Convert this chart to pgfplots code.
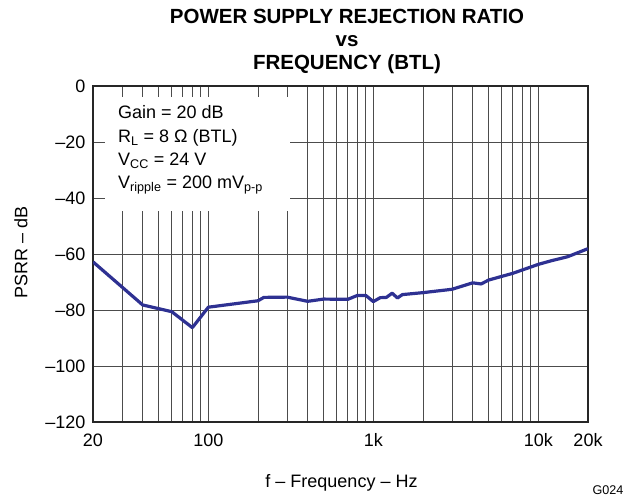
\documentclass[border=0pt]{standalone}
\usepackage{fontspec}
\setmainfont{Liberation Sans}
\usepackage{pgfplots}
\pgfplotsset{compat=1.18}
\definecolor{curve}{RGB}{46,49,146}
\begin{document}
\begin{tikzpicture}[font=\fontsize{18bp}{21bp}\selectfont]
\path[use as bounding box] (-93bp,-75bp) rectangle (536bp,422bp);
\begin{axis}[
 scale only axis, width=495bp, height=336bp,
 at={(0,0)}, anchor=south west,
 xmode=log, xmin=20, xmax=20000, ymin=-120, ymax=0,
 xtick={20,100,1000,10000,20000}, xticklabels={20,100,1k,10k,20k},
 minor xtick={30,40,50,60,70,80,90,200,300,400,500,600,700,800,900,2000,3000,4000,5000,6000,7000,8000,9000},
 ytick={-120,-100,-80,-60,-40,-20,0}, yticklabels={–120,–100,–80,–60,–40,–20,0},
 xmajorgrids, xminorgrids, ymajorgrids,
 grid style={black!70, line width=0.6bp},
 minor grid style={black!70, line width=0.6bp},
 major tick length=0, minor tick length=0,
 axis line style={line width=1.2bp, black!85},
 xticklabel style={yshift=-8bp},
 yticklabel style={xshift=-4bp},
]
\addplot[curve, line width=3.2bp, line join=round] coordinates {
(20,-62.8) (40,-78.2) (60,-80.6) (80,-86.3) (100,-79.0) (200,-76.7) (217,-75.5) (300,-75.4) (400,-76.9) (500,-76.1) (700,-76.2) (800,-74.8) (900,-74.8) (1000,-77.0) (1100,-75.6) (1200,-75.5) (1300,-74.0) (1400,-75.7) (1500,-74.5) (2000,-73.8) (3000,-72.6) (4000,-70.3) (4500,-70.7) (5000,-69.3) (7000,-66.9) (10000,-63.7) (12000,-62.4) (15000,-61.0) (20000,-58.1)
};
\end{axis}
% text box
\fill[white] (12bp,211bp) rectangle (197bp,325bp);
\node[anchor=base west, inner sep=0] at (25bp,303bp) {Gain = 20 dB};
\node[anchor=base west, inner sep=0] at (25bp,279.5bp) {R\textsubscript{L} = 8 Ω (BTL)};
\node[anchor=base west, inner sep=0] at (25bp,256.5bp) {V\textsubscript{CC} = 24 V};
\node[anchor=base west, inner sep=0] at (25bp,233.5bp) {V\textsubscript{ripple} = 200 mV\textsubscript{p-p}};
% title
\begin{scope}[font=\fontsize{20.5bp}{24bp}\selectfont\bfseries]
\node[anchor=base, inner sep=0] at (254bp,398bp) {POWER SUPPLY REJECTION RATIO};
\node[anchor=base, inner sep=0] at (254bp,375bp) {vs};
\node[anchor=base, inner sep=0] at (254bp,352bp) {FREQUENCY (BTL)};
\end{scope}
% axis labels
\node[anchor=base, inner sep=0] at (248.5bp,-65bp) {f – Frequency – Hz};
\node[rotate=90, inner sep=0] at (-72bp,169.5bp) {PSRR – dB};
\node[inner sep=0, font=\fontsize{12.6bp}{15bp}\selectfont] at (515bp,-68bp) {G024};
\end{tikzpicture}
\end{document}
